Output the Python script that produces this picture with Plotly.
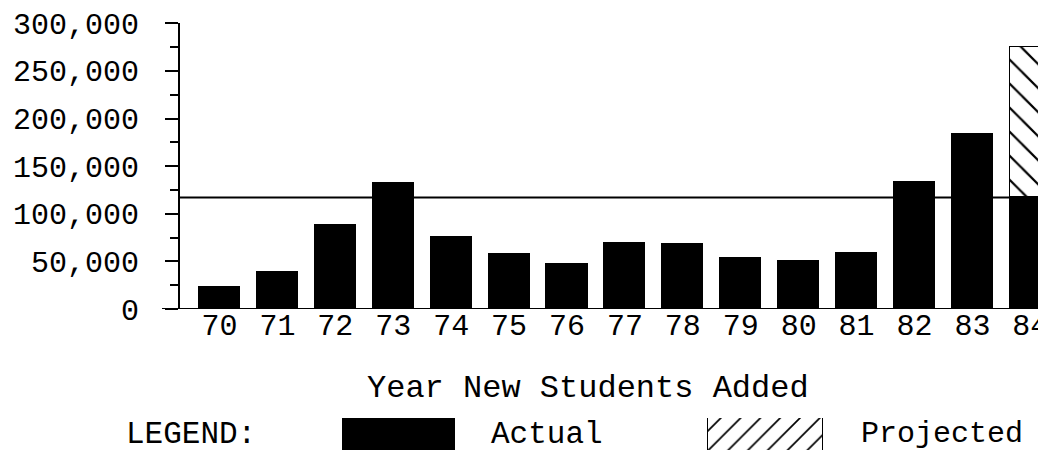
import plotly.graph_objects as go

# ---- data ----
years = [70, 71, 72, 73, 74, 75, 76, 77, 78, 79, 80, 81, 82, 83, 84]
year_labels = [str(y) for y in years]
actual = [22500, 39000, 88000, 132000, 75000, 57500, 47000, 69000, 68000,
          53000, 50000, 58000, 133500, 183000, 117000]
projected = [None] * 14 + [157500]          # projected addition stacked on 84
reference_level = 117000                   # horizontal reference line
y_ticks = [0, 50000, 100000, 150000, 200000, 250000, 300000]

# ---- legend ----
legend_items = ["Actual", "Projected"]

# The page body has an 8px margin, so the figure is drawn 8px in from the
# window's top-left corner. All layout positions below are window pixels.
OFF = 8
W, H = 1046 - OFF, 450 - OFF


def px(x):
    return (x - OFF) / W


def py(y):
    return 1 - (y - OFF) / H


FONT = "Liberation Mono, Courier New, monospace"
FS = 31

fig = go.Figure()
fig.add_bar(
    x=years, y=actual, width=0.71,
    marker=dict(color="black", line=dict(color="black", width=1)),
    xaxis="x", yaxis="y", name="Actual",
)
fig.add_bar(
    x=years, y=projected, width=0.71,
    marker=dict(color="white", line=dict(color="black", width=1.5),
                pattern=dict(shape="\\", fgcolor="black", bgcolor="white",
                             size=17, solidity=0.13)),
    xaxis="x", yaxis="y", name="Projected",
)

# legend swatches (on a helper axis measured in window pixels)
fig.add_bar(
    x=[399 - OFF], y=[1.5], base=[-0.5], width=[112],
    marker=dict(color="black", line=dict(color="black", width=1)),
    xaxis="x2", yaxis="y2",
)
fig.add_bar(
    x=[765.5 - OFF], y=[1.5], base=[-0.5], width=[115],
    marker=dict(color="white", line=dict(color="black", width=1.5),
                pattern=dict(shape="/", fgcolor="black", bgcolor="white",
                             size=14, solidity=0.12)),
    xaxis="x2", yaxis="y2",
)

fig.update_layout(
    width=W, height=H,
    template="none",
    margin=dict(l=0, r=0, t=0, b=0),
    paper_bgcolor="white", plot_bgcolor="white",
    showlegend=False,
    barmode="stack",
    bargap=0,
    font=dict(family=FONT, size=FS, color="black"),
    xaxis=dict(
        domain=[px(180), 1], range=[69.318, 84.27], anchor="y",
        tickmode="array", tickvals=years, ticktext=year_labels,
        ticks="", showline=False, showgrid=False, zeroline=False,
        tickfont=dict(family=FONT, size=30, color="black"),
        ticklabeloverflow="allow",
        ticklabelstandoff=-5,
        automargin=False,
    ),
    yaxis=dict(
        domain=[py(309), py(23.3)], range=[0, 300000], anchor="x",
        tickmode="array", tickvals=y_ticks, tickformat=",d",
        ticks="outside", ticklen=13, tickwidth=2, tickcolor="black",
        showline=True, linewidth=2, linecolor="black",
        showgrid=False, zeroline=False,
        minor=dict(dtick=25000, tick0=0, ticks="outside", ticklen=8,
                   tickwidth=2, tickcolor="black", showgrid=False),
        ticklabelstandoff=20,
        tickfont=dict(family=FONT, size=30, color="black"),
        automargin=False,
    ),
    xaxis2=dict(domain=[0, 1], range=[0, W], anchor="y2", visible=False,
                fixedrange=True),
    yaxis2=dict(domain=[0, 1 - (418 - OFF) / H], range=[0, 1], anchor="x2",
                visible=False, fixedrange=True),
    shapes=[
        # x axis baseline (extends left past the y axis)
        dict(type="line", xref="paper", yref="y", x0=px(162), x1=1,
             y0=0, y1=0, line=dict(color="black", width=2)),
        # reference level line
        dict(type="line", xref="paper", yref="y", x0=px(180), x1=1,
             y0=reference_level, y1=reference_level,
             line=dict(color="black", width=2)),
    ],
    annotations=[
        dict(text="Year New Students Added", xref="paper", yref="paper",
             x=px(587.5), y=py(388), xanchor="center", yanchor="middle",
             showarrow=False, font=dict(family=FONT, size=32, color="black")),
        dict(text="LEGEND:", xref="paper", yref="paper",
             x=px(124), y=py(434), xanchor="left", yanchor="middle",
             showarrow=False, font=dict(family=FONT, size=FS, color="black")),
        dict(text=legend_items[0], xref="paper", yref="paper",
             x=px(489), y=py(434), xanchor="left", yanchor="middle",
             showarrow=False, font=dict(family=FONT, size=FS, color="black")),
        dict(text=legend_items[1], xref="paper", yref="paper",
             x=px(859), y=py(434), xanchor="left", yanchor="middle",
             showarrow=False, font=dict(family=FONT, size=30, color="black")),
    ],
)

fig.write_html("out.html")
